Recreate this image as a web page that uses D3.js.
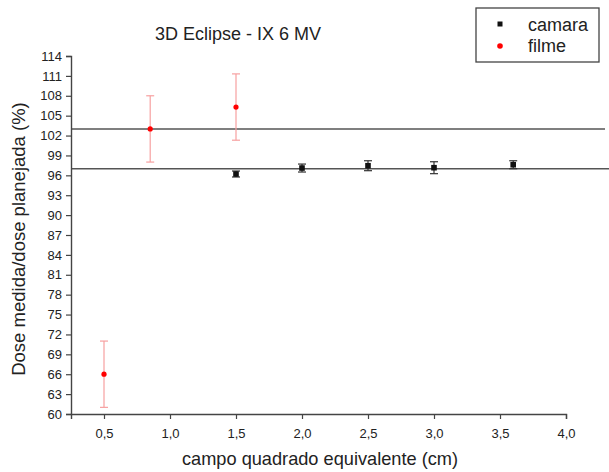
<!DOCTYPE html>
<html>
<head>
<meta charset="utf-8">
<script src="https://cdn.jsdelivr.net/npm/d3@7"></script>
<style>
  body { margin: 0; background: #fff; }
  text { font-family: "Liberation Sans", Arial, sans-serif; fill: #222; }
</style>
</head>
<body>
<div id="chart"></div>
<script>
// data
const camaraX = [1.5, 2.0, 2.5, 3.0, 3.6];
const camaraY = [96.2, 97.1, 97.45, 97.15, 97.6];
const camaraErr = [0.45, 0.6, 0.75, 0.9, 0.6];

const filmeX = [0.5, 0.85, 1.5];
const filmeY = [66, 103, 106.3];
const filmeErr = [5, 5, 5];

const refLines = [103, 97];
const yTicks = d3.range(60, 115, 3);
const xTicks = [0.5, 1.0, 1.5, 2.0, 2.5, 3.0, 3.5, 4.0];

const width = 609, height = 472;
const margin = { left: 71, right: 43, top: 56, bottom: 58 };

const svg = d3.select(`#chart`).append(`svg`)
  .attr(`width`, width)
  .attr(`height`, height);

const x = d3.scaleLinear().domain([0.25, 4.0]).range([margin.left, width - margin.right]);
const y = d3.scaleLinear().domain([60, 114]).range([height - margin.bottom, margin.top]);

const fmt = d => d.toFixed(1).replace(`.`, `,`);

// reference lines run past the axis end
svg.selectAll(`.ref`)
    .data(refLines)
  .enter().append(`line`)
    .attr(`x1`, x(0.25))
    .attr(`x2`, (d, i) => i === 0 ? 605 : 609)
    .attr(`y1`, d => y(d))
    .attr(`y2`, d => y(d))
    .attr(`stroke`, `#555`)
    .attr(`stroke-width`, 1.6);

// minor ticks then major ticks
const gx = svg.append(`g`).attr(`transform`, `translate(0,${y(60)})`);
gx.call(d3.axisBottom(x).tickValues(d3.range(0.25, 4.01, 0.25)).tickSize(4).tickFormat(``));
gx.call(d3.axisBottom(x).tickValues(xTicks).tickSize(5).tickFormat(fmt));
gx.selectAll(`text`).attr(`font-size`, 13).attr(`dy`, `1.25em`).attr(`fill`, `#333`);

const gy = svg.append(`g`).attr(`transform`, `translate(${x(0.25)},0)`);
gy.call(d3.axisLeft(y).tickValues(d3.range(60, 114.1, 1.5)).tickSize(3).tickFormat(``));
gy.call(d3.axisLeft(y).tickValues(yTicks).tickSize(5));
gy.selectAll(`text`).attr(`font-size`, 13).attr(`fill`, `#333`).attr(`dx`, `-1`);

svg.selectAll(`.domain`).attr(`stroke`, `#444`).attr(`stroke-width`, 1.4);
svg.selectAll(`.tick line`).attr(`stroke`, `#444`).attr(`stroke-width`, 1.2);

// error bars
function errorBars(xs, ys, es, color, cap) {
  const g = svg.append(`g`).attr(`stroke`, color).attr(`stroke-width`, 1.2);
  xs.forEach((xv, i) => {
    const top = y(ys[i] + es[i]), bot = y(ys[i] - es[i]), cx = x(xv);
    g.append(`line`).attr(`x1`, cx).attr(`x2`, cx).attr(`y1`, top).attr(`y2`, bot);
    g.append(`line`).attr(`x1`, cx - cap).attr(`x2`, cx + cap).attr(`y1`, top).attr(`y2`, top);
    g.append(`line`).attr(`x1`, cx - cap).attr(`x2`, cx + cap).attr(`y1`, bot).attr(`y2`, bot);
  });
}
errorBars(filmeX, filmeY, filmeErr, `#f7a0a0`, 4);
errorBars(camaraX, camaraY, camaraErr, `#333`, 4);

svg.selectAll(`.filme`)
    .data(filmeX)
  .enter().append(`circle`)
    .attr(`cx`, d => x(d))
    .attr(`cy`, (d, i) => y(filmeY[i]))
    .attr(`r`, 2.6)
    .attr(`fill`, `#f00`);

svg.selectAll(`.camara`)
    .data(camaraX)
  .enter().append(`rect`)
    .attr(`x`, d => x(d) - 2.8)
    .attr(`y`, (d, i) => y(camaraY[i]) - 2.8)
    .attr(`width`, 5.6)
    .attr(`height`, 5.6)
    .attr(`fill`, `#111`);

// title & labels
svg.append(`text`)
  .attr(`x`, 238).attr(`y`, 40)
  .attr(`text-anchor`, `middle`)
  .attr(`font-size`, 18)
  .text(`3D Eclipse - IX 6 MV`);

svg.append(`text`)
  .attr(`x`, 320).attr(`y`, 465)
  .attr(`text-anchor`, `middle`)
  .attr(`font-size`, 18.2)
  .text(`campo quadrado equivalente (cm)`);

svg.append(`text`)
  .attr(`transform`, `translate(25,239) rotate(-90)`)
  .attr(`text-anchor`, `middle`)
  .attr(`font-size`, 18.5)
  .text(`Dose medida/dose planejada (%)`);

// legend
const lg = svg.append(`g`);
lg.append(`rect`)
  .attr(`x`, 476).attr(`y`, 8).attr(`width`, 123).attr(`height`, 54)
  .attr(`fill`, `#fff`).attr(`stroke`, `#444`).attr(`stroke-width`, 1.3);
lg.append(`rect`).attr(`x`, 497.5).attr(`y`, 21.5).attr(`width`, 5).attr(`height`, 5).attr(`fill`, `#111`);
lg.append(`circle`).attr(`cx`, 500).attr(`cy`, 46).attr(`r`, 2.8).attr(`fill`, `#f00`);
lg.append(`text`).attr(`x`, 528).attr(`y`, 31).attr(`font-size`, 18).text(`camara`);
lg.append(`text`).attr(`x`, 528).attr(`y`, 52).attr(`font-size`, 18).text(`filme`);
</script>
</body>
</html>
